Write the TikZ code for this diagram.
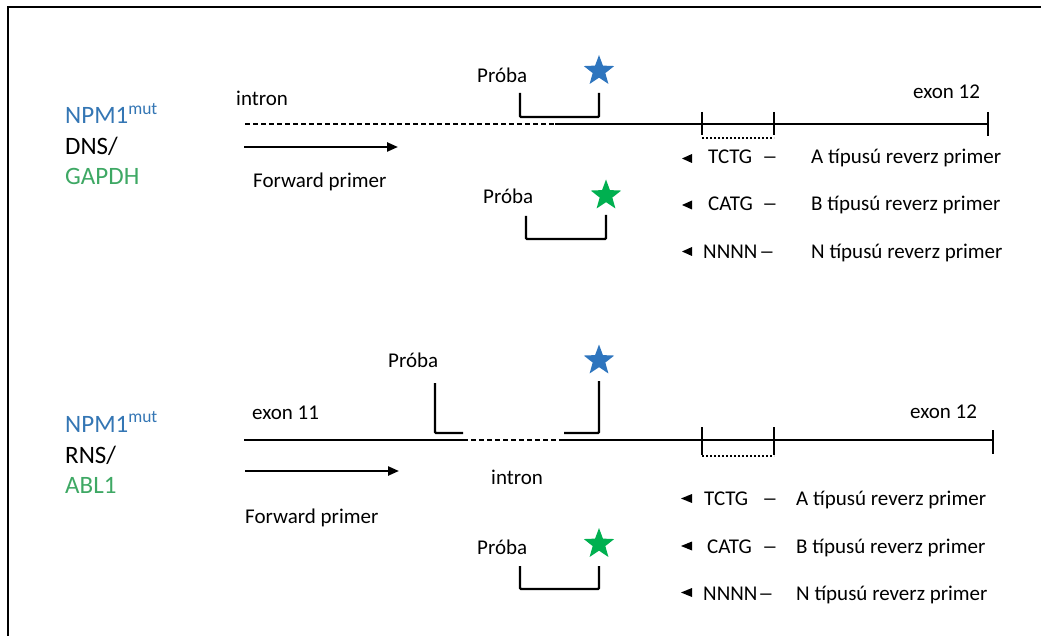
\documentclass[tikz,border=0pt]{standalone}
\usepackage{fontspec}
\setmainfont{Carlito}
\usetikzlibrary{shapes.geometric,arrows.meta}
\definecolor{npmblue}{RGB}{52,118,180}
\definecolor{refgreen}{RGB}{62,168,100}
\definecolor{starblue}{RGB}{46,117,190}
\definecolor{stargreen}{RGB}{0,176,80}
\newcommand{\longdash}{\scalebox{1.5}[1]{–}}
\begin{document}
\begin{tikzpicture}[x=1pt,y=-1pt,
  lbl/.style={inner sep=0pt, anchor=base west, font=\fontsize{21}{25}\selectfont},
  big/.style={inner sep=0pt, anchor=base west, font=\fontsize{25}{30}\selectfont},
  dna/.style={line width=2.3pt},
  intr/.style={line width=1.5pt, dash pattern=on 5pt off 3pt},
  dots/.style={line width=1.4pt, dash pattern=on 2pt off 2pt},
  tickmark/.style={line width=2.3pt},
  probe/.style={line width=2.3pt, rounded corners=1pt},
  fwd/.style={line width=2.3pt, -{Triangle[length=11pt,width=9pt]}},
  starnode/.style={star, star points=5, star point ratio=2.4, minimum size=32pt, inner sep=0pt, draw=none},
  frame/.style={line width=1.5pt}]
\useasboundingbox (0,0) rectangle (1041,636);
% frame
\coordinate (fbl) at (8,636);
\coordinate (ftl) at (8,7);
\coordinate (ftr) at (1041,7);
\draw[frame] (fbl) -- (ftl) -- (ftr);

%% ---------------- top section (DNA) ----------------
\node[big, text=npmblue] (n1) at (65,124) {NPM1\textsuperscript{mut}};
\node[big] (dns) at (65,155) {DNS/};
\node[big, text=refgreen] (gapdh) at (65,185) {GAPDH};
\node[lbl] (intron1) at (236,106) {intron};
\node[lbl] (proba1) at (477,83) {Próba};
\node[lbl] (exon12a) at (913,99) {exon 12};
\node[lbl] (fwd1) at (253,188) {Forward primer};
\node[lbl] (proba2) at (483,204) {Próba};
\node[starnode, fill=starblue] (star1) at (599,71) {};
\node[starnode, fill=stargreen] (star2) at (606,195.5) {};

\coordinate (a0) at (245,124);
\coordinate (a1) at (555,124);
\coordinate (a2) at (988,124);
\draw[intr] (a0) -- (a1);
\draw[dna] (a1) -- (a2);
\draw[tickmark] (702,112) -- (702,135);
\draw[tickmark] (774,112) -- (774,135);
\draw[tickmark] (988,112) -- (988,136);
\draw[dots] (702,138) -- (774,138);
\draw[probe] (520,93) -- (520,117) -- (599,117) -- (599,93);
\draw[probe] (526,216) -- (526,239) -- (606,239) -- (606,215);
\coordinate (f1s) at (244,147);
\coordinate (f1e) at (398,147);
\draw[fwd] (f1s) -- (f1e);

% reverse primers (top)
\fill (692,154) -- (682,158.5) -- (692,163) -- cycle;
\node[lbl] (ra1) at (708,164) {TCTG};
\node[lbl] (da1) at (762,164) {\longdash};
\node[lbl] (ta1) at (811,164) {A típusú reverz primer};
\fill (692,200.5) -- (682,205) -- (692,209.5) -- cycle;
\node[lbl] (rb1) at (708,211) {CATG};
\node[lbl] (db1) at (762,211) {\longdash};
\node[lbl] (tb1) at (811,211) {B típusú reverz primer};
\fill (692,247) -- (682,251.5) -- (692,256) -- cycle;
\node[lbl] (rn1) at (703,259) {NNNN};
\node[lbl] (dn1) at (759,259) {\longdash};
\node[lbl] (tn1) at (811,259) {N típusú reverz primer};

%% ---------------- bottom section (RNA) ----------------
\node[big, text=npmblue] (n2) at (65,432) {NPM1\textsuperscript{mut}};
\node[big] (rns) at (65,463) {RNS/};
\node[big, text=refgreen] (abl) at (65,493) {ABL1};
\node[lbl] (exon11) at (252,419) {exon 11};
\node[lbl] (proba3) at (388,367) {Próba};
\node[lbl] (intron2) at (491,484) {intron};
\node[lbl] (fwd2) at (245,523) {Forward primer};
\node[lbl] (proba4) at (477,554) {Próba};
\node[lbl] (exon12b) at (910,418) {exon 12};
\node[starnode, fill=starblue] (star3) at (599,360.5) {};
\node[starnode, fill=stargreen] (star4) at (599,544) {};

\coordinate (b0) at (244,440);
\coordinate (b1) at (463,440);
\coordinate (b2) at (560,440);
\coordinate (b3) at (993,440);
\draw[dna] (b0) -- (b1);
\draw[intr] (b1) -- (b2);
\draw[dna] (b2) -- (b3);
\draw[tickmark] (702,427) -- (702,455);
\draw[tickmark] (774,427) -- (774,455);
\draw[tickmark] (993,430) -- (993,454);
\draw[dots] (702,456) -- (774,456);
\draw[probe] (435,383) -- (435,433) -- (463,433);
\draw[probe] (564,433) -- (599,433) -- (599,381);
\draw[probe] (520,566) -- (520,589) -- (599,589) -- (599,566);
\coordinate (f2s) at (245,471);
\coordinate (f2e) at (399,471);
\draw[fwd] (f2s) -- (f2e);

% reverse primers (bottom)
\fill (692,494) -- (681,498.5) -- (692,503) -- cycle;
\node[lbl] (ra2) at (704,505) {TCTG};
\node[lbl] (da2) at (762,505) {\longdash};
\node[lbl] (ta2) at (796,505) {A típusú reverz primer};
\fill (692,541.5) -- (681,546) -- (692,550.5) -- cycle;
\node[lbl] (rb2) at (707,553) {CATG};
\node[lbl] (db2) at (762,553) {\longdash};
\node[lbl] (tb2) at (796,553) {B típusú reverz primer};
\fill (692,588) -- (681,592.5) -- (692,597) -- cycle;
\node[lbl] (rn2) at (703,600) {NNNN};
\node[lbl] (dn2) at (758,600) {\longdash};
\node[lbl] (tn2) at (796,600) {N típusú reverz primer};
\end{tikzpicture}
\end{document}
